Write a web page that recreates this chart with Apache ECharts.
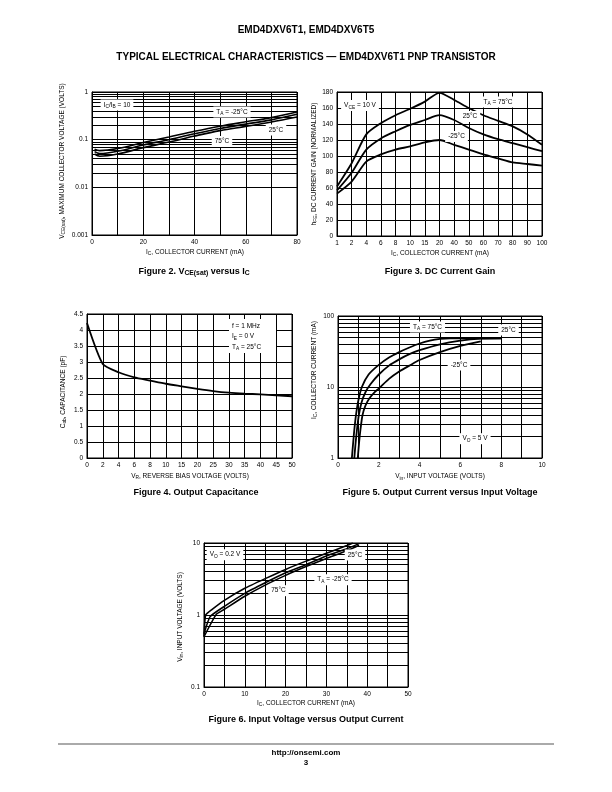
<!DOCTYPE html>
<html><head><meta charset="utf-8">
<script src="https://cdn.jsdelivr.net/npm/echarts@6/dist/echarts.min.js"></script>
<style>html,body{margin:0;padding:0;background:#fff}#c{width:612px;height:792px}</style>
</head><body><div id="c"></div>
<script>
// ---------- DATA ----------
// Figure 2: VCE(sat) vs IC
const fig2X = [1, 3, 10, 20, 30, 40, 50, 60, 70, 80];
const fig2M25 = [0.063, 0.059, 0.065, 0.087, 0.114, 0.150, 0.192, 0.237, 0.29, 0.38];
const fig2P25 = [0.056, 0.051, 0.057, 0.077, 0.100, 0.133, 0.172, 0.212, 0.26, 0.34];
const fig2P75 = [0.050, 0.045, 0.050, 0.068, 0.089, 0.119, 0.155, 0.190, 0.235, 0.30];
const fig2Minor = [0.002,0.003,0.004,0.005,0.006,0.007,0.008,0.009,0.02,0.03,0.04,0.05,0.06,0.07,0.08,0.09,0.2,0.3,0.4,0.5,0.6,0.7,0.8,0.9];
// Figure 3: DC current gain
const fig3Cats = ['1','2','4','6','8','10','15','20','40','50','60','70','80','90','100'];
const hfe75 = [62, 91, 127, 141, 151, 159, 168, 179, 170, 160, 151, 144, 137, 127, 114];
const hfe25 = [57, 79, 108, 122, 131, 139, 145, 151, 145, 135, 127, 121, 116, 111, 106];
const hfeM25 = [53, 68, 93, 102, 108, 112, 117, 120, 114, 108, 102, 97, 92, 90, 88];
// Figure 4: output capacitance
const fig4Cats = ['0','2','4','6','8','10','15','20','25','30','35','40','45','50'];
const cob = [4.22, 2.94, 2.68, 2.52, 2.42, 2.32, 2.24, 2.16, 2.09, 2.04, 2.01, 1.99, 1.96, 1.93];
// Figure 5: output current vs input voltage
const vin75 = [0.68, 0.74, 0.8, 0.88, 1.0, 1.17, 1.5, 2.0, 2.5, 3.0, 3.5, 4.0, 4.5, 5.0, 5.5, 8.0];
const ic75  = [1, 1.6, 2.5, 4, 6.5, 10, 15, 20.5, 26, 31, 36, 41, 45, 47.5, 48.5, 48.5];
const vin25 = [0.8, 0.86, 0.93, 1.02, 1.15, 1.35, 1.6, 2.0, 2.5, 3.0, 3.5, 4.0, 5.0, 6.0, 7.0, 8.0];
const ic25  = [1, 1.6, 2.5, 4, 6, 8.5, 11, 15, 20, 24.5, 29, 33, 40, 45, 48, 48.5];
const vinM25 = [0.97, 1.03, 1.1, 1.2, 1.35, 1.55, 1.8, 2.0, 2.5, 3.0, 3.5, 4.0, 5.0, 6.0, 7.0];
const icM25  = [1, 1.6, 2.5, 4, 5.5, 7, 8.5, 9.5, 13, 16.5, 20, 24, 31, 38, 44];
const fig5Minor = [2,3,4,5,6,7,8,9,20,30,40,50,60,70,80,90];
// Figure 6: input voltage vs output current
const icA = [0, 0.4, 2, 5, 10, 15, 20, 25, 30, 35, 36.5];
const vinA = [0.5, 1.0, 1.2, 1.6, 2.35, 3.2, 4.3, 5.6, 7.2, 9.2, 10];
const icB = [0, 1.5, 5, 10, 15, 20, 25, 30, 35, 38];
const vinB = [0.55, 0.95, 1.32, 2.0, 2.8, 3.85, 5.0, 6.6, 8.3, 9.8];
const icC = [0, 3, 5, 10, 15, 20, 25, 30, 35, 38];
const vinC = [0.5, 1.02, 1.2, 1.82, 2.6, 3.55, 4.7, 6.1, 7.8, 9.3];
const fig6Minor = [0.2,0.3,0.4,0.5,0.6,0.7,0.8,0.9,2,3,4,5,6,7,8,9];

// ---------- STYLE HELPERS ----------
const FONT = '"Liberation Sans", Arial, sans-serif';
const BLACK = '#000';
const lblStyle = {color: BLACK, fontSize: 6.5, fontFamily: FONT, margin: 4};
const splitStyle = {show: true, lineStyle: {color: BLACK, width: 1}};
function ax(o) {
  return Object.assign({
    axisLine: {show: true, onZero: false, lineStyle: {color: BLACK, width: 1}},
    axisTick: {show: false},
    splitLine: splitStyle
  }, o);
}
const fmtLog = v => String(Number(v.toPrecision(3)));
const pair = (xs, ys) => xs.map((x, i) => [x, ys[i]]);
function curve(gi, data, w, extra) {
  return Object.assign({
    type: 'line', xAxisIndex: gi, yAxisIndex: gi, data: data,
    showSymbol: false, symbol: 'none', smooth: 0.25, silent: true,
    lineStyle: {color: BLACK, width: w || 1.8}, z: 5
  }, extra || {});
}
function minorLines(vals) {
  return {silent: true, symbol: 'none', animation: false,
    label: {show: false}, lineStyle: {color: BLACK, width: 1, type: 'solid'},
    data: vals.map(v => ({yAxis: v}))};
}
const rich = {
  s: {fontSize: 4.8, lineHeight: 4, verticalAlign: 'bottom', fontFamily: FONT, fill: BLACK, color: BLACK},
  sb: {fontSize: 6.8, lineHeight: 5, verticalAlign: 'bottom', fontFamily: FONT, fontWeight: 'bold', fill: BLACK, color: BLACK}
};
function txt(x, y, text, o) {
  o = o || {};
  return {
    type: 'text', x: x, y: y, rotation: o.rot || 0, z: 100, silent: true,
    style: {
      text: text, fill: BLACK,
      font: (o.bold ? 'bold ' : '') + (o.size || 6.5) + 'px ' + FONT,
      fontSize: o.size || 6.5, fontWeight: o.bold ? 'bold' : 'normal', fontFamily: FONT,
      align: o.align || 'center', textAlign: o.align || 'center',
      verticalAlign: 'middle', textVerticalAlign: 'middle',
      lineHeight: o.lh || 9,
      backgroundColor: o.bg ? '#fff' : undefined,
      padding: o.bg ? [1, 3, 1, 3] : 0,
      rich: o.rich || rich
    }
  };
}

const grids = [
  {left: 92, top: 92, width: 205, height: 143},
  {left: 337, top: 92, width: 205, height: 144},
  {left: 87, top: 314, width: 205, height: 144},
  {left: 338, top: 316, width: 204, height: 142},
  {left: 204, top: 543, width: 204, height: 144}
].map(g => Object.assign({show: true, borderColor: BLACK, borderWidth: 1, containLabel: false}, g));

const xAxes = [
  ax({type: 'value', gridIndex: 0, min: 0, max: 80, interval: 10,
      axisLabel: Object.assign({}, lblStyle, {formatter: v => (v % 20 === 0 ? String(v) : '')})}),
  ax({type: 'category', gridIndex: 1, data: fig3Cats, boundaryGap: false,
      axisLabel: Object.assign({}, lblStyle, {interval: 0}), splitLine: Object.assign({interval: 0}, splitStyle)}),
  ax({type: 'category', gridIndex: 2, data: fig4Cats, boundaryGap: false,
      axisLabel: Object.assign({}, lblStyle, {interval: 0}), splitLine: Object.assign({interval: 0}, splitStyle)}),
  ax({type: 'value', gridIndex: 3, min: 0, max: 10, interval: 1,
      axisLabel: Object.assign({}, lblStyle, {formatter: v => (v % 2 === 0 ? String(v) : '')})}),
  ax({type: 'value', gridIndex: 4, min: 0, max: 50, interval: 5,
      axisLabel: Object.assign({}, lblStyle, {formatter: v => (v % 10 === 0 ? String(v) : '')})})
];
const yAxes = [
  ax({type: 'log', logBase: 10, gridIndex: 0, min: 0.001, max: 1,
      axisLabel: Object.assign({}, lblStyle, {formatter: fmtLog})}),
  ax({type: 'value', gridIndex: 1, min: 0, max: 180, interval: 20, axisLabel: lblStyle}),
  ax({type: 'value', gridIndex: 2, min: 0, max: 4.5, interval: 0.5, axisLabel: lblStyle}),
  ax({type: 'log', logBase: 10, gridIndex: 3, min: 1, max: 100,
      axisLabel: Object.assign({}, lblStyle, {formatter: fmtLog})}),
  ax({type: 'log', logBase: 10, gridIndex: 4, min: 0.1, max: 10,
      axisLabel: Object.assign({}, lblStyle, {formatter: fmtLog})})
];

const series = [
  curve(0, pair(fig2X, fig2M25), 1.6, {markLine: minorLines(fig2Minor), smooth: 0.35}),
  curve(0, pair(fig2X, fig2P25), 1.6, {smooth: 0.35}),
  curve(0, pair(fig2X, fig2P75), 1.6, {smooth: 0.35}),
  curve(1, hfe75, 1.8),
  curve(1, hfe25, 1.8),
  curve(1, hfeM25, 1.8),
  curve(2, cob, 1.8, {smooth: 0.2}),
  curve(3, pair(vin75, ic75), 1.8, {markLine: minorLines(fig5Minor)}),
  curve(3, pair(vin25, ic25), 1.8),
  curve(3, pair(vinM25, icM25), 1.8),
  curve(4, pair(icA, vinA), 1.6, {markLine: minorLines(fig6Minor), smooth: 0.15}),
  curve(4, pair(icB, vinB), 1.6, {smooth: 0.15}),
  curve(4, pair(icC, vinC), 1.6, {smooth: 0.15})
];

const R90 = Math.PI / 2;
const graphics = [
  // header
  txt(306, 30, 'EMD4DXV6T1, EMD4DXV6T5', {bold: true, size: 10}),
  txt(306, 57, 'TYPICAL ELECTRICAL CHARACTERISTICS \u2014 EMD4DXV6T1 PNP TRANSISTOR', {bold: true, size: 10}),
  // Figure 2
  txt(62, 161, 'V{s|CE(sat)}, MAXIMUM COLLECTOR VOLTAGE (VOLTS)', {rot: R90}),
  txt(195, 252, 'I{s|C}, COLLECTOR CURRENT (mA)'),
  txt(194, 272, 'Figure 2. V{sb|CE(sat)} versus I{sb|C}', {bold: true, size: 9}),
  txt(117, 105, 'I{s|C}/I{s|B} = 10', {bg: true}),
  txt(232, 112, 'T{s|A} = -25\u00B0C', {bg: true}),
  txt(276, 130, '25\u00B0C', {bg: true}),
  txt(222, 141.5, '75\u00B0C', {bg: true}),
  // Figure 3
  txt(314, 164, 'h{s|FE}, DC CURRENT GAIN (NORMALIZED)', {rot: R90}),
  txt(440, 253, 'I{s|C}, COLLECTOR CURRENT (mA)'),
  txt(440, 272, 'Figure 3. DC Current Gain', {bold: true, size: 9}),
  txt(360, 105.5, 'V{s|CE} = 10 V', {bg: true}),
  txt(498, 102, 'T{s|A} = 75\u00B0C', {bg: true}),
  txt(470, 116.5, '25\u00B0C', {bg: true}),
  txt(456.5, 136.5, '-25\u00B0C', {bg: true}),
  // Figure 4
  txt(63, 392, 'C{s|ob}, CAPACITANCE (pF)', {rot: R90}),
  txt(190, 476, 'V{s|R}, REVERSE BIAS VOLTAGE (VOLTS)'),
  txt(196, 493, 'Figure 4. Output Capacitance', {bold: true, size: 9}),
  {type: 'rect', z: 99, silent: true, shape: {x: 229, y: 319, width: 47, height: 34}, style: {fill: '#fff'}},
  txt(232, 326, 'f = 1 MHz', {align: 'left'}),
  txt(232, 336.5, 'I{s|E} = 0 V', {align: 'left'}),
  txt(232, 347, 'T{s|A} = 25\u00B0C', {align: 'left'}),
  // Figure 5
  txt(314, 370, 'I{s|C}, COLLECTOR CURRENT (mA)', {rot: R90}),
  txt(440, 476.5, 'V{s|in}, INPUT VOLTAGE (VOLTS)'),
  txt(440, 493, 'Figure 5. Output Current versus Input Voltage', {bold: true, size: 9}),
  txt(427.5, 327, 'T{s|A} = 75\u00B0C', {bg: true}),
  txt(508.5, 330, '25\u00B0C', {bg: true}),
  txt(459, 365, '-25\u00B0C', {bg: true}),
  txt(475, 438.7, 'V{s|O} = 5 V', {bg: true}),
  // Figure 6
  txt(180, 617, 'V{s|in}, INPUT VOLTAGE (VOLTS)', {rot: R90}),
  txt(306, 703, 'I{s|C}, COLLECTOR CURRENT (mA)'),
  txt(306, 720, 'Figure 6. Input Voltage versus Output Current', {bold: true, size: 9}),
  txt(225, 554.7, 'V{s|O} = 0.2 V', {bg: true}),
  txt(355, 555, '25\u00B0C', {bg: true}),
  txt(333, 579.7, 'T{s|A} = -25\u00B0C', {bg: true}),
  txt(278.5, 590.7, '75\u00B0C', {bg: true}),
  // footer
  {type: 'line', z: 100, silent: true, shape: {x1: 58, y1: 744, x2: 554, y2: 744}, style: {stroke: '#aaa', lineWidth: 2}},
  txt(306, 752.5, 'http://onsemi.com', {bold: true, size: 8}),
  txt(306, 763, '3', {bold: true, size: 8})
];

const chart = echarts.init(document.getElementById('c'), null, {renderer: 'canvas'});
chart.setOption({
  animation: false,
  backgroundColor: '#fff',
  textStyle: {fontFamily: FONT},
  grid: grids, xAxis: xAxes, yAxis: yAxes, series: series,
  graphic: {elements: graphics}
});
</script></body></html>
